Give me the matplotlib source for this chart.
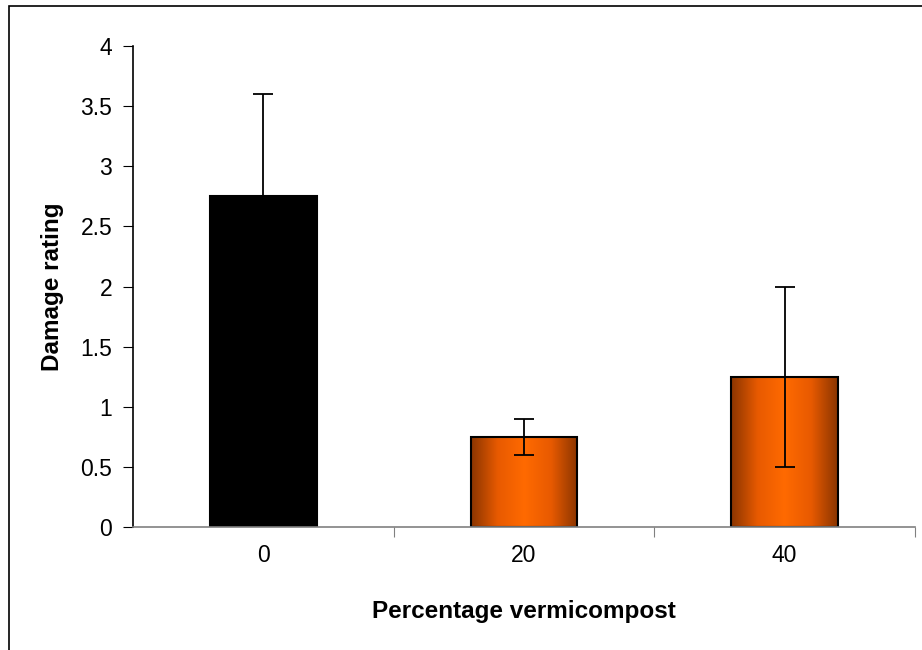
import matplotlib
matplotlib.use("Agg")
import matplotlib.pyplot as plt
import numpy as np
from matplotlib.colors import LinearSegmentedColormap
from matplotlib.patches import Rectangle

categories = ["0", "20", "40"]
values = [2.75, 0.75, 1.25]
errors = [0.85, 0.15, 0.75]
yticks = [0, 0.5, 1, 1.5, 2, 2.5, 3, 3.5, 4]
ytick_labels = ["0", "0.5", "1", "1.5", "2", "2.5", "3", "3.5", "4"]

plt.rcParams['font.family'] = ['Liberation Sans', 'DejaVu Sans']

fig = plt.figure(figsize=(9.22, 6.5), dpi=100)
ax = fig.add_axes([133/922, 1-527/650, (915-133)/922, (527-46)/650])

# figure frame (top & left visible)
fig.patches.append(Rectangle((9/922, -0.1), 1.2, 1 - 6/650 + 0.1, transform=fig.transFigure,
                             fill=False, edgecolor='black', linewidth=1.2))

x = np.arange(len(categories))
width = 0.41
bars = ax.bar(x, values, width=width, color=['black', 'none', 'none'],
              edgecolor='black', linewidth=1.5, zorder=2)

cmap = LinearSegmentedColormap.from_list('og', ['#8a3500', '#e85a00', '#ff6a00', '#e85a00', '#8a3500'])
grad = np.linspace(0, 1, 256).reshape(1, -1)
for i in [1, 2]:
    b = bars[i]
    x0 = b.get_x(); w = b.get_width(); h = b.get_height()
    im = ax.imshow(grad, cmap=cmap, aspect='auto', extent=[x0, x0 + w, 0, h], zorder=1.5)
    im.set_clip_path(b)
    b.set_facecolor('none')
    b.set_zorder(2.5)

ax.errorbar(x, values, yerr=errors, fmt='none', ecolor='black', elinewidth=1.3,
            capsize=7, capthick=1.3, zorder=3)

ax.set_xlim(-0.5, 2.5)
ax.set_ylim(0, 4)
ax.set_yticks(yticks)
ax.set_yticklabels(ytick_labels, fontsize=16.5)
ax.set_xticks([0.5, 1.5, 2.5])
ax.set_xticklabels([])
ax.set_xticks(x, minor=True)
ax.set_xticklabels(categories, minor=True, fontsize=16.5)
ax.tick_params(axis='x', which='minor', length=0, pad=12)
ax.tick_params(axis='x', which='major', length=7, direction='out', color='#808080')
ax.tick_params(axis='y', length=7, direction='out', pad=8)

for s in ['top', 'right']:
    ax.spines[s].set_visible(False)
ax.spines['bottom'].set_color('#808080')
ax.spines['bottom'].set_linewidth(1.2)
ax.spines['left'].set_linewidth(1.2)

ax.set_xlabel('Percentage vermicompost', fontsize=17.5, fontweight='bold', labelpad=24)
ax.set_ylabel('Damage rating', fontsize=17.5, fontweight='bold', labelpad=12)
ax.set_xlim(-0.5, 2.5)
ax.set_ylim(0, 4)

fig.savefig('out.png', dpi=100)
